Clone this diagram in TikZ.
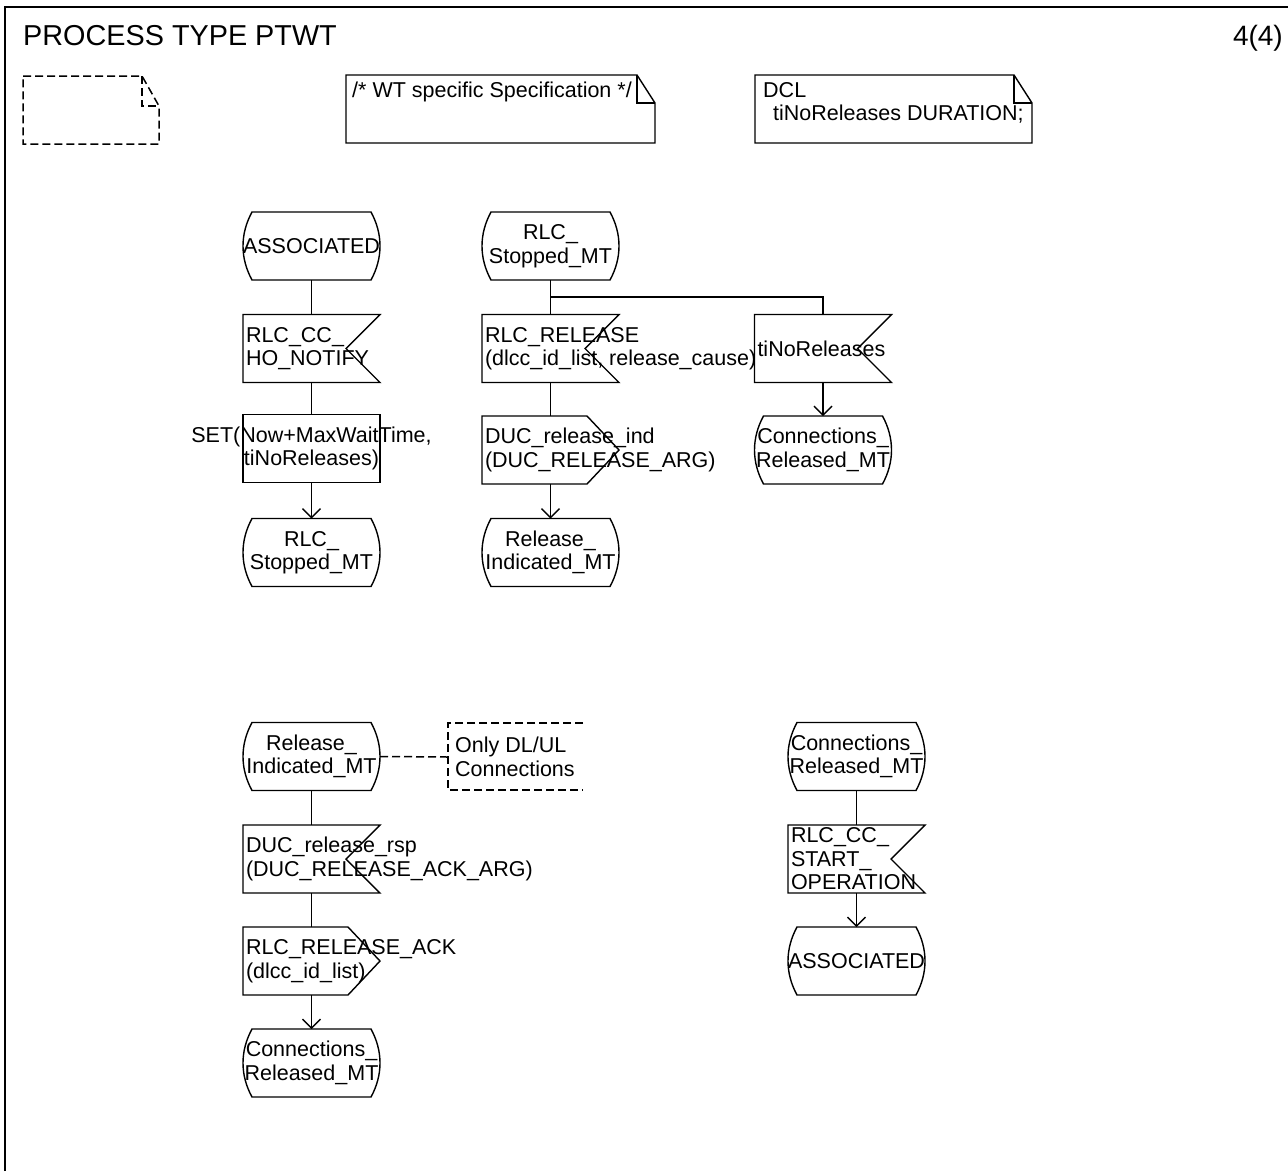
\documentclass[tikz,border=0pt]{standalone}
\usepackage{fontspec}
\setmainfont{Liberation Sans}
\usetikzlibrary{calc,arrows.meta}
\newcommand{\sdlfs}{\fontsize{21.5}{23.5}\selectfont}
\newcommand{\sdlL}[1]{\makebox[131pt][l]{#1}}
\newcommand{\sdlC}[1]{\makebox[131pt][c]{#1}}
\newcommand{\sdlstateshape}[1]{%
  \draw[flow] ($(#1.north west)+(9,0)$) -- ($(#1.north east)+(-9,0)$)
    .. controls ($(#1.north east)+(3,22)$) and ($(#1.south east)+(3,-22)$) .. ($(#1.south east)+(-9,0)$)
    -- ($(#1.south west)+(9,0)$)
    .. controls ($(#1.south west)+(-3,-22)$) and ($(#1.north west)+(-3,22)$) .. cycle;}
\newcommand{\sdlinputshape}[1]{%
  \draw[flow] (#1.north west) -- (#1.north east) -- ($(#1.east)+(-34,0)$) -- (#1.south east) -- (#1.south west) -- cycle;}
\newcommand{\sdloutputshape}[1]{%
  \draw[flow] (#1.north west) -- ($(#1.north east)+(-32,0)$) -- (#1.east) -- ($(#1.south east)+(-32,0)$) -- (#1.south west) -- cycle;}
\begin{document}
\begin{tikzpicture}[x=1pt,y=-1pt,
  flow/.style={line width=1.4pt},
  flowarr/.style={line width=1.4pt,-{Straight Barb[length=9pt,width=18pt,line width=1.4pt]}},
  dsh/.style={line width=1.5pt,dash pattern=on 8pt off 4pt},
  sdlbase/.style={minimum width=137pt,minimum height=68pt,inner sep=0pt,outer sep=0pt,align=center,font=\sdlfs},
  sdlstate/.style={sdlbase},
  sdlinput/.style={sdlbase},
  sdloutput/.style={sdlbase},
  sdltask/.style={sdlbase,draw,line width=1.4pt},
  txt/.style={inner sep=0pt,font=\sdlfs}]
\useasboundingbox (0,0) rectangle (1288,1171);
\fill[white] (0,0) rectangle (1288,1171);
% frame
\draw[line width=2pt] (5,1171) -- (5,7) -- (1288,7);
\node[anchor=base west,inner sep=0pt,font=\fontsize{28.8}{30}\selectfont] (title) at (23,45) {PROCESS TYPE PTWT};
\node[anchor=base east,inner sep=0pt,font=\fontsize{28}{30}\selectfont] (page) at (1283,45) {4(4)};
% text extension (empty, dashed)
\draw[dsh] (23,76) -- (142,76) -- (159,106) -- (159,144) -- (23,144) -- cycle;
\draw[dsh] (142,76) -- (142,106) -- (159,106);
% comment boxes
\draw[flow] (346,75) -- (637,75) -- (655,103) -- (655,143) -- (346,143) -- cycle;
\draw[flow] (637,75) -- (637,103) -- (655,103);
\node[txt,anchor=base west] (wt) at (352,97) {/* WT specific Specification */};
\draw[flow] (755,75) -- (1014,75) -- (1032,103) -- (1032,143) -- (755,143) -- cycle;
\draw[flow] (1014,75) -- (1014,103) -- (1032,103);
\node[txt,anchor=north west,align=left] (dcl) at (763,82) {DCL\\\hspace*{10pt}tiNoReleases DURATION;};
% column 1 top
\node[sdlstate] (S1) at (311.5,246) {ASSOCIATED};
\node[sdlinput] (I1) at (311.5,348.5) {\sdlL{RLC\_CC\_}\\\sdlL{HO\_NOTIFY}};
\node[sdltask] (T1) at (311.5,448.5) {\sdlC{SET(Now+MaxWaitTime,}\\\sdlC{tiNoReleases)}};
\node[sdlstate] (S2) at (311.5,552.5) {RLC\_\\Stopped\_MT};
% column 2 top
\node[sdlstate] (S3) at (550.5,246) {RLC\_\\Stopped\_MT};
\node[sdlinput] (I2) at (550.5,348.5) {\sdlL{RLC\_RELEASE}\\\sdlL{(dlcc\_id\_list, release\_cause)}};
\node[sdloutput] (O1) at (550.5,450) {\sdlL{DUC\_release\_ind}\\\sdlL{(DUC\_RELEASE\_ARG)}};
\node[sdlstate] (S4) at (550.5,552.5) {Release\_\\Indicated\_MT};
% column 3 top
\node[sdlinput] (I3) at (823,348.5) {\sdlL{tiNoReleases}};
\node[sdlstate] (S5) at (823,450) {Connections\_\\Released\_MT};
% bottom left
\node[sdlstate] (S6) at (311.5,756.5) {Release\_\\Indicated\_MT};
\node[sdlinput] (I4) at (311.5,859) {\sdlL{DUC\_release\_rsp}\\\sdlL{(DUC\_RELEASE\_ACK\_ARG)}};
\node[sdloutput] (O2) at (311.5,961) {\sdlL{RLC\_RELEASE\_ACK}\\\sdlL{(dlcc\_id\_list)}};
\node[sdlstate] (S7) at (311.5,1063) {Connections\_\\Released\_MT};
% bottom right
\node[sdlstate] (S8) at (856.5,756.5) {Connections\_\\Released\_MT};
\node[sdlinput] (I5) at (856.5,859) {\sdlL{RLC\_CC\_}\\\sdlL{START\_}\\\sdlL{OPERATION}};
\node[sdlstate] (S9) at (856.5,961) {ASSOCIATED};
% shapes
\foreach \n in {S1,S2,S3,S4,S5,S6,S7,S8,S9} {\sdlstateshape{\n}}
\foreach \n in {I1,I2,I3,I4,I5} {\sdlinputshape{\n}}
\foreach \n in {O1,O2} {\sdloutputshape{\n}}
% comment
\node[txt,anchor=west,align=left] (cm) at (455,757) {Only DL/UL\\Connections};
\coordinate (cmb) at (448,757);
\draw[dsh] (583,723) -- (448,723) -- (448,790) -- (583,790);
\draw[dsh] (S6.east) -- (cmb);
% connectors
\draw[flow] (S1.south) -- (I1.north);
\draw[flow] (I1.south) -- (T1.north);
\draw[flowarr] (T1.south) -- (S2.north);
\coordinate (br) at ($(S3.south)+(0,17)$);
\draw[flow] (S3.south) -- (I2.north);
\draw[flow] (br) -| (I3.north);
\draw[flow] (I2.south) -- (O1.north);
\draw[flowarr] (O1.south) -- (S4.north);
\draw[flowarr] (I3.south) -- (S5.north);
\draw[flow] (S6.south) -- (I4.north);
\draw[flow] (I4.south) -- (O2.north);
\draw[flowarr] (O2.south) -- (S7.north);
\draw[flow] (S8.south) -- (I5.north);
\draw[flowarr] (I5.south) -- (S9.north);
\end{tikzpicture}
\end{document}
